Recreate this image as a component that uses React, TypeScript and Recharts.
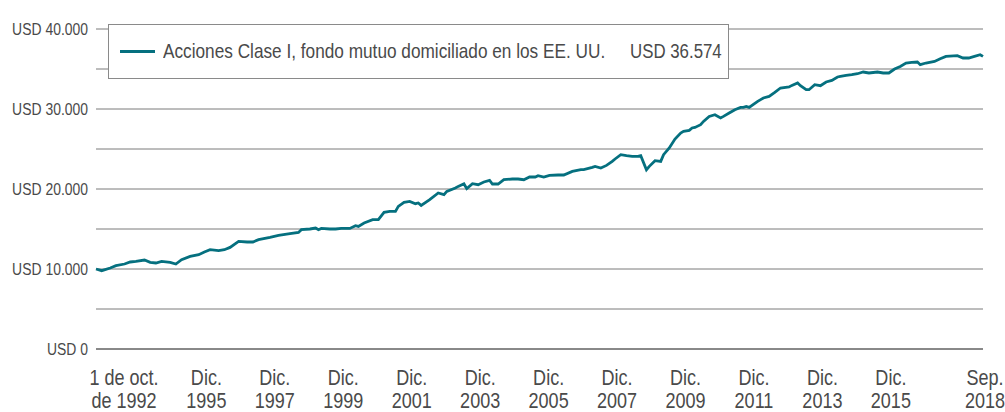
import { LineChart, Line, XAxis, YAxis, CartesianGrid, Legend } from 'recharts';

// month index counted from 1 Oct 1992 (0) to Sep 2018 (311)
const MONTHS = [
    0, 2, 5, 7, 10, 12, 14, 17, 19, 21, 23, 26, 28, 30, 33, 36, 38, 40, 43, 45, 47, 50, 53, 55,
    57, 61, 64, 68, 71, 72, 75, 77, 78, 79, 82, 84, 86, 89, 91, 92, 94, 97, 99, 101, 103, 105, 106,
    108, 110, 112, 113, 114, 117, 120, 122, 123, 126, 127, 129, 130, 132, 134, 136, 138, 139, 141,
    143, 146, 148, 150, 152, 154, 155, 157, 159, 162, 164,
    167, 170, 171, 174, 175, 177, 179, 181, 182, 184, 186, 188, 190, 191, 193, 194, 196, 198, 199,
    201, 203, 205, 206, 208, 209, 210, 212, 213, 215,
    217, 219, 220, 222, 224, 226, 227, 228, 229, 232, 234, 236, 238, 240, 243, 244, 246, 247, 249,
    250, 252, 254, 256, 258, 260, 261, 263, 265,
    267, 269, 271, 274, 276, 278, 280, 282, 284, 286, 288, 289, 291, 294, 296, 298, 302, 304, 306,
    308, 310, 311,
];

const VALUES = [
    10000, 9790, 10125, 10410, 10625, 10875, 10950, 11125, 10830, 10750, 10950, 10830, 10625, 11160,
    11575, 11790, 12125, 12410, 12290, 12410, 12700, 13450, 13375, 13375,
    13660, 13950, 14200, 14410, 14575, 14910, 15000, 15125, 14910, 15075, 15000, 15000, 15075, 15075,
    15410, 15325, 15750, 16160, 16160, 17075, 17200, 17200, 17825,
    18325, 18450, 18160, 18250, 17950, 18660, 19500, 19290, 19700, 20125, 20325, 20660, 20040, 20660,
    20540, 20875, 21075, 20625, 20625, 21160, 21250, 21250, 21160, 21500, 21500, 21660, 21500, 21700,
    21750, 21750,
    22200, 22410, 22410, 22700, 22830, 22625, 22950, 23450, 23750, 24290, 24160, 24075, 24075, 24160,
    22410, 22830, 23540, 23450, 24290, 25125, 26250, 27000, 27200, 27325, 27625, 27700, 28040, 28450,
    29075,
    29290, 28875, 29075, 29500, 29910, 30200, 30200, 30325, 30200, 30950, 31375, 31575, 32075, 32625,
    32750, 32950, 33250, 32910, 32410, 32410, 33040, 32910, 33375, 33575, 34000, 34075, 34200, 34290,
    34410, 34625, 34500, 34625, 34500, 34500, 35000, 35325, 35750, 35825, 35875, 35540, 35750, 35950,
    36290, 36575, 36660, 36375, 36375, 36575, 36790, 36574,
];

const TICK_MONTHS = [0, 38, 62, 86, 110, 134, 158, 182, 206, 230, 254, 278, 311];
const TICK_TOP = ['1 de oct.', 'Dic.', 'Dic.', 'Dic.', 'Dic.', 'Dic.', 'Dic.', 'Dic.', 'Dic.', 'Dic.', 'Dic.', 'Dic.', 'Sep.'];
const TICK_BOTTOM = ['de 1992', '1995', '1997', '1999', '2001', '2003', '2005', '2007', '2009', '2011', '2013', '2015', '2018'];

const Y_TICKS = [0, 5000, 10000, 15000, 20000, 25000, 30000, 35000, 40000];

const SERIES_NAME = 'Acciones Clase I, fondo mutuo domiciliado en los EE. UU.';
const SERIES_END = 'USD 36.574';

const data = MONTHS.map((m, i) => ({ m, v: VALUES[i] }));

// no narrow face installed: squeeze Liberation Sans horizontally
const FONT = "'Liberation Sans', Arial, sans-serif";
const SQUEEZE = 0.82;
const TEXT = '#4a4a4a';
const TEAL = '#05707f';

const fmtUsd = (v: number) => 'USD ' + String(v).replace(/\B(?=(\d{3})+(?!\d))/g, '.');

const XTick = (props: any) => {
    const { x, y, payload } = props;
    const i = TICK_MONTHS.indexOf(payload.value);
    const dx = i === 0 ? 28 : 2;
    return (
        <g transform={`translate(${x + dx},${y}) scale(${SQUEEZE},1)`}>
            <text x={0} y={0} textAnchor="middle" fill={TEXT} fontSize={22} fontFamily={FONT}>
                <tspan x={0} dy={36}>{TICK_TOP[i]}</tspan>
                <tspan x={0} dy={23}>{TICK_BOTTOM[i]}</tspan>
            </text>
        </g>
    );
};

const YTick = (props: any) => {
    const { x, y, payload } = props;
    if (payload.value % 10000 !== 0) return null;
    return (
        <g transform={`translate(${x},${y}) scale(${SQUEEZE},1)`}>
            <text x={0} y={0} dy={6} textAnchor="end" fill={TEXT} fontSize={17} fontFamily={FONT}>
                {fmtUsd(payload.value)}
            </text>
        </g>
    );
};

const LegendBox = () => (
    <div
        style={{
            position: 'relative',
            width: 619,
            height: 53,
            background: '#fff',
            border: '1px solid #8a8a8a',
            fontFamily: FONT,
            color: TEXT,
            whiteSpace: 'nowrap',
        }}
    >
        <span style={{ position: 'absolute', left: 11, top: 25, width: 35, height: 3, background: TEAL }} />
        <span
            style={{
                position: 'absolute',
                left: 54,
                top: 14,
                fontSize: 21,
                lineHeight: '24px',
                transform: `scaleX(${SQUEEZE})`,
                transformOrigin: 'left center',
            }}
        >
            {SERIES_NAME}
        </span>
        <span
            style={{
                position: 'absolute',
                right: 6,
                top: 14,
                fontSize: 20.5,
                lineHeight: '24px',
                transform: `scaleX(${SQUEEZE})`,
                transformOrigin: 'right center',
            }}
        >
            {SERIES_END}
        </span>
    </div>
);

export default function App() {
    return (
        <div>
            <style>{'body{margin:0}'}</style>
            <LineChart width={1005} height={412} data={data} margin={{ top: 29, right: 22, bottom: 0, left: 0 }}>
                <CartesianGrid horizontal vertical={false} stroke="#7a7a7a" />
                <XAxis
                    dataKey="m"
                    type="number"
                    domain={[0, 311]}
                    ticks={TICK_MONTHS}
                    tick={<XTick />}
                    tickLine={false}
                    tickSize={0}
                    tickMargin={0}
                    axisLine={{ stroke: '#555' }}
                    height={63}
                    interval={0}
                />
                <YAxis
                    type="number"
                    domain={[0, 40000]}
                    ticks={Y_TICKS}
                    tick={<YTick />}
                    tickLine={false}
                    axisLine={false}
                    width={96}
                    interval={0}
                />
                <Legend
                    layout="horizontal"
                    verticalAlign="middle"
                    align="center"
                    content={<LegendBox />}
                    wrapperStyle={{ position: 'absolute', left: 108, top: 24, width: 621, height: 55 }}
                />
                <Line
                    type="linear"
                    dataKey="v"
                    stroke={TEAL}
                    strokeWidth={2.8}
                    dot={false}
                    isAnimationActive={false}
                />
            </LineChart>
        </div>
    );
}
